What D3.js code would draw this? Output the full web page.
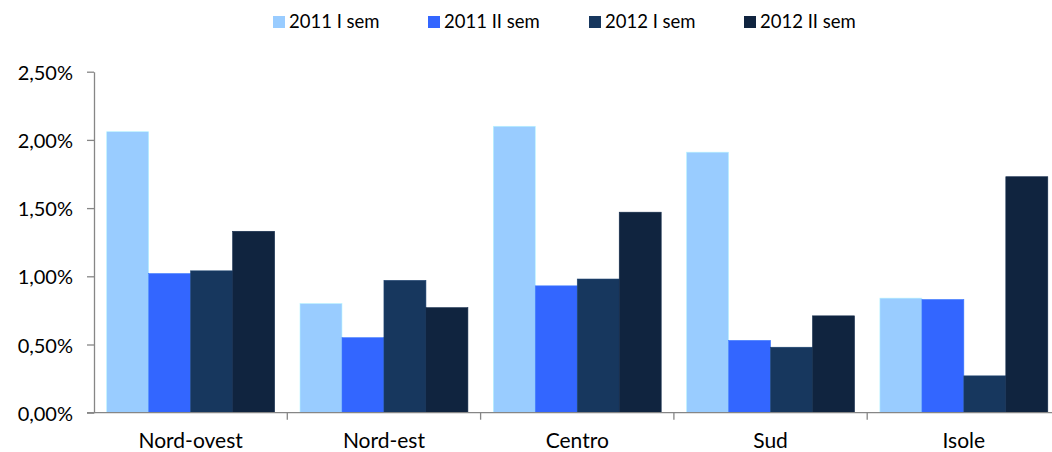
<!DOCTYPE html>
<html><head><meta charset="utf-8">
<script src="https://cdn.jsdelivr.net/npm/d3@7"></script>
<style>body{margin:0;background:#fff;} svg{display:block;font-family:Lato,"Open Sans",sans-serif;}</style>
</head><body><svg id="c" width="1052" height="452"></svg>
<script>
const categories = ["Nord-ovest","Nord-est","Centro","Sud","Isole"];
const seriesNames = ["2011 I sem","2011 II sem","2012 I sem","2012 II sem"];
const s2011I  = [2.06, 0.80, 2.10, 1.91, 0.84];
const s2011II = [1.02, 0.55, 0.93, 0.53, 0.83];
const s2012I  = [1.04, 0.97, 0.98, 0.48, 0.27];
const s2012II = [1.33, 0.77, 1.47, 0.71, 1.73];
const yTicks = [0, 0.5, 1.0, 1.5, 2.0, 2.5];
const colors = ["#99CCFF","#3366FF","#17375E","#10243F"];
const seriesValues = [s2011I, s2011II, s2012I, s2012II];

(function(){
const svg = d3.select("#c");
const left = 94, bandW = 193.3, plotTop = 71.7, plotBottom = 412.7;
const x0 = d3.scaleBand().domain(categories).range([left, left + bandW*categories.length]).paddingInner(0).paddingOuter(0);
const pad = 12.7;
const x1 = d3.scaleBand().domain(seriesNames).range([pad, x0.bandwidth()-pad]).padding(0);
const y = d3.scaleLinear().domain([0, 2.5]).range([plotBottom, plotTop]);

const fmt = v => d3.format(".2f")(v).replace(".", ",") + "%";

// bars
const g = svg.append("g");
categories.forEach((c, ci) => {
  seriesNames.forEach((s, si) => {
    const v = seriesValues[si][ci];
    g.append("rect")
      .attr("x", x0(c) + x1(s))
      .attr("y", y(v))
      .attr("width", x1.bandwidth())
      .attr("height", y(0) - y(v))
      .attr("fill", colors[si])
      .attr("stroke", d3.color(colors[si]).brighter(0.5))
      .attr("stroke-width", 0.6);
  });
});

// y axis
const yAxis = svg.append("g").attr("transform", `translate(${left},0)`)
  .call(d3.axisLeft(y).tickValues(yTicks).tickFormat(fmt).tickSize(7).tickSizeOuter(0));
yAxis.select(".domain").attr("stroke", "#868686").attr("stroke-width", 1.3);
yAxis.selectAll(".tick line").attr("stroke", "#868686").attr("stroke-width", 1.3);
yAxis.selectAll(".tick text").attr("font-size", 20).attr("fill", "#000").attr("x", -21).attr("dy", "0.38em")
  .style("font-family", "Lato, 'Open Sans', sans-serif");

// x axis
const xAxisG = svg.append("g").attr("transform", `translate(0,${plotBottom})`);
xAxisG.append("line").attr("x1", left - 7).attr("x2", 1052).attr("y1", 0).attr("y2", 0)
  .attr("stroke", "#868686").attr("stroke-width", 1.3);
const bounds = d3.range(categories.length + 1).map(i => left + i * bandW);
xAxisG.selectAll("line.tk").data(bounds.slice(1)).join("line").attr("class","tk")
  .attr("x1", d => d).attr("x2", d => d).attr("y1", 0).attr("y2", 7)
  .attr("stroke", "#868686").attr("stroke-width", 1.3);
xAxisG.selectAll("text").data(categories).join("text")
  .attr("x", d => x0(d) + x0.bandwidth()/2)
  .attr("y", 35)
  .attr("text-anchor", "middle")
  .attr("font-size", 21)
  .attr("fill", "#000")
  .text(d => d);

// legend
const legendX = [273, 428, 589, 744];
const lg = svg.append("g");
seriesNames.forEach((s, i) => {
  lg.append("rect").attr("x", legendX[i]).attr("y", 16).attr("width", 12).attr("height", 12).attr("fill", colors[i]);
  lg.append("text").attr("x", legendX[i] + 16).attr("y", 27.5).attr("font-size", 18.5).attr("fill", "#000").text(s);
});
})();
</script></body></html>
